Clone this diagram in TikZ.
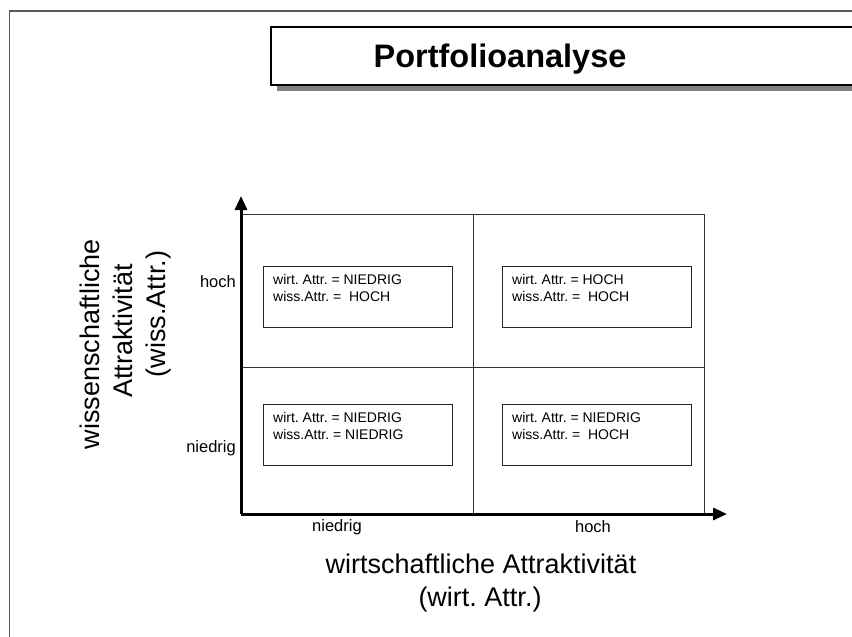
\documentclass[tikz,border=0pt]{standalone}
\usepackage{fontspec}
\setmainfont{Liberation Sans}
\usetikzlibrary{arrows.meta}
\frenchspacing
\begin{document}
\begin{tikzpicture}[x=1pt,y=-1pt,
  frame/.style={draw=black!65, line width=1.6pt},
  gridline/.style={draw=black!80, line width=1pt},
  axis/.style={line width=3pt, -{Triangle[length=14pt,width=12pt]}},
  titlebox/.style={draw=black, line width=1.5pt, fill=white, minimum width=620pt,
    minimum height=58pt, anchor=north west, inner sep=0pt},
  shadowbox/.style={fill=black!50, draw=none, minimum width=620pt,
    minimum height=58pt, anchor=north west, inner sep=0pt},
  cellbox/.style={draw=black!85, line width=1pt, minimum width=189pt,
    minimum height=61pt, anchor=north west, inner sep=0pt},
  celltext/.style={anchor=north west, align=left, inner sep=0pt,
    font=\fontsize{14}{17}\selectfont},
  ticklabel/.style={inner sep=0pt, font=\fontsize{16.5}{19}\selectfont},
  axistitle/.style={inner sep=0pt, anchor=base, font=\fontsize{27}{32}\selectfont}
]
\useasboundingbox (0,0) rectangle (852,637);
\clip (0,0) rectangle (852,637);
\fill[white] (0,0) rectangle (852,637);

% outer frame (only the left and top edges lie on the page)
\draw[frame] (9.5,660) -- (9.5,11) -- (880,11);

% heading with drop shadow
\node[shadowbox] (titleshadow) at (277,33) {};
\node[titlebox] (titlebox) at (270,26) {};
\node[font=\fontsize{32.5}{38}\selectfont\bfseries, anchor=base] (title)
  at (500,67) {Portfolioanalyse};

% four-field matrix
\coordinate (o) at (241,514);
\coordinate (tl) at (241,214);
\coordinate (tr) at (704,214);
\coordinate (br) at (704,514);
\coordinate (mt) at (473,214);
\coordinate (mb) at (473,514);
\coordinate (ml) at (241,367);
\coordinate (mr) at (704,367);
\coordinate (ytip) at (241,196);
\coordinate (xtip) at (727,514);

\draw[gridline] (tl) -- (tr) -- (br);
\draw[gridline] (mt) -- (mb);
\draw[gridline] (ml) -- (mr);
\draw[axis] (o) -- (ytip);
\draw[axis] (o) -- (xtip);

% quadrant boxes
\node[cellbox] (q1) at (263,266) {};
\node[cellbox] (q2) at (502,266) {};
\node[cellbox] (q3) at (263,404) {};
\node[cellbox] (q4) at (502,404) {};

\node[celltext] (t1) at ([shift={(10,8)}]q1.north west)
  {wirt. Attr. = NIEDRIG\\wiss.Attr. =\ \ HOCH};
\node[celltext] (t2) at ([shift={(10,8)}]q2.north west)
  {wirt. Attr. = HOCH\\wiss.Attr. =\ \ HOCH};
\node[celltext] (t3) at ([shift={(10,8)}]q3.north west)
  {wirt. Attr. = NIEDRIG\\wiss.Attr. = NIEDRIG};
\node[celltext] (t4) at ([shift={(10,8)}]q4.north west)
  {wirt. Attr. = NIEDRIG\\wiss.Attr. =\ \ HOCH};

% scale labels
\node[ticklabel, anchor=east] (yhigh) at (236,282) {hoch};
\node[ticklabel, anchor=east] (ylow) at (236,448) {niedrig};
\node[ticklabel] (xlow) at (337,527) {niedrig};
\node[ticklabel] (xhigh) at (593,527) {hoch};

% axis titles
\node[axistitle] (xt1) at (481,573) {wirtschaftliche Attraktivität};
\node[axistitle] (xt2) at (480,606) {(wirt. Attr.)};
\node[axistitle, rotate=90] (yt1) at (99,344) {wissenschaftliche};
\node[axistitle, rotate=90] (yt2) at (132,331) {Attraktivität};
\node[axistitle, rotate=90] (yt3) at (165,314) {(wiss.Attr.)};
\end{tikzpicture}
\end{document}
